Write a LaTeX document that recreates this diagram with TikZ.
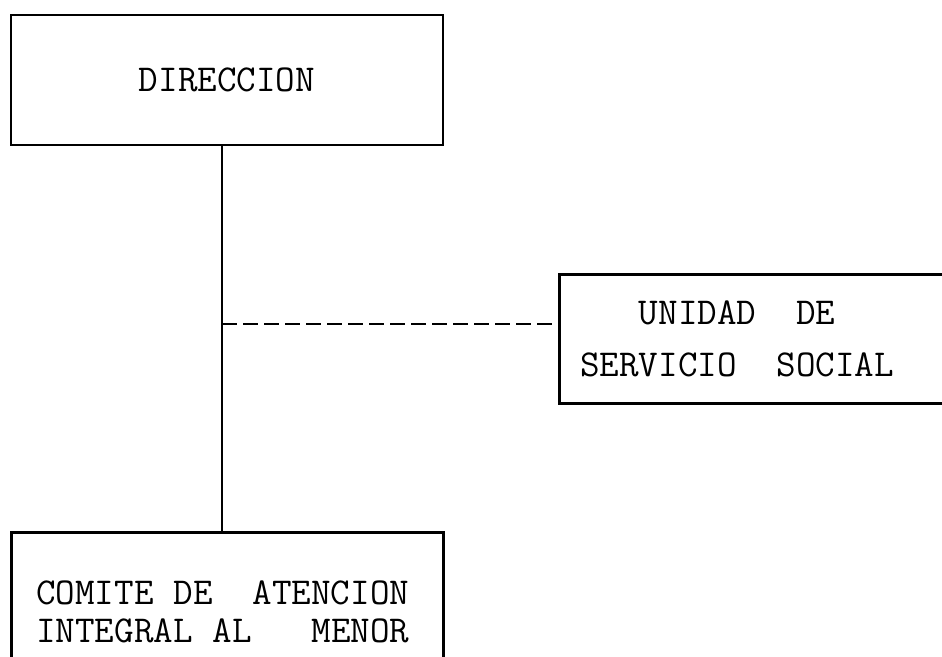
\documentclass[tikz,border=0pt]{standalone}
\usepackage{tikz}
\usetikzlibrary{positioning,calc}
\newcommand{\typed}{\ttfamily\fontsize{38}{44}\selectfont}
\newcommand{\gap}{\hspace{0.525em}}

\begin{document}
\begin{tikzpicture}[x=1pt,y=-1pt,
	unit/.style={draw,line width=2.5pt,font=\typed},
	link/.style={line width=2.2pt}]
	\useasboundingbox (0,0) rectangle (942,656);
	\clip (0,0) rectangle (942,656);
	\node [unit,minimum width=432pt,minimum height=130pt] (dir) at (227,80) {DIRECCION};
	\node [unit,anchor=north west,text width=378pt,inner xsep=21pt,minimum height=129pt,align=left] (uss) at (558,273) {\phantom{UNI}UNIDAD\gap\gap DE\\[8pt]SERVICIO\gap\gap SOCIAL};
	\node [unit,anchor=north west,text width=382pt,inner xsep=25pt,minimum height=160pt,align=left] (comite) at (10,531) {COMITE\gap DE\gap\gap ATENCION\\[-6pt]INTEGRAL\gap AL\gap\gap\gap MENOR};
	% enlace vertical y linea de asesoria
	\coordinate (tap) at (222,324);
	\draw [link] (tap |- dir.south) -- (tap |- comite.north);
	\draw [link,dash pattern=on 15pt off 6pt] (tap) -- (tap -| uss.west);
\end{tikzpicture}
\end{document}
